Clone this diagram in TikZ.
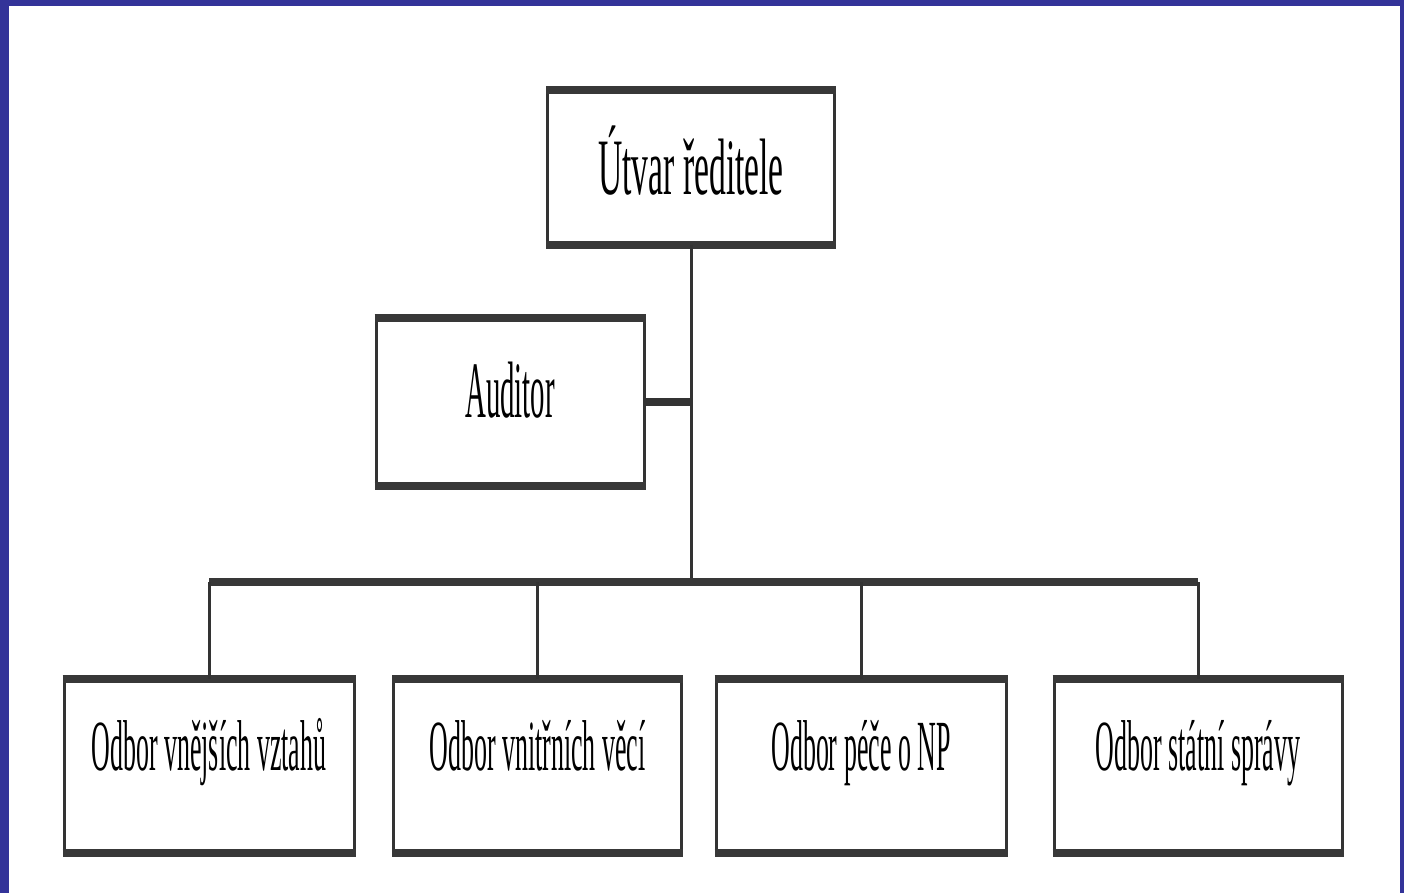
\documentclass[tikz,border=0pt]{standalone}
\usepackage{fontspec}
\newfontfamily\orgfont[FakeStretch=0.36]{Liberation Serif}
\newfontfamily\headfont[FakeStretch=0.42]{Liberation Serif}
\usetikzlibrary{positioning}
\definecolor{frameblue}{RGB}{51,51,153}
\tikzset{
  rule/.style={draw=black!78,line width=4pt,-},
  link/.style={draw=black!80,line width=1.5pt},
  unit/.style={draw=black!80,line width=1.5pt,minimum width=145pt,minimum height=85.5pt,
    inner sep=0pt,font=\orgfont\fontsize{36}{36}\selectfont,text height=25pt,text depth=21pt,
    append after command={(\tikzlastnode.north west) edge[rule] (\tikzlastnode.north east)
      (\tikzlastnode.south west) edge[rule] (\tikzlastnode.south east)}}
}

\begin{document}
\begin{tikzpicture}[x=0.5pt,y=-0.5pt]
  \fill[frameblue] (0,0) rectangle (1404,893);
  \fill[white] (9,6) rectangle (1400,893);
  \useasboundingbox (0,0) rectangle (1404,893);
  % vedeni
  \node[unit,minimum width=143.5pt,minimum height=76pt,font=\headfont\fontsize{40}{40}\selectfont,
    text height=27pt,text depth=0pt] (reditel) at (691,167.5) {Útvar ředitele};
  \node[unit,minimum width=134pt,minimum height=82pt,font=\orgfont\fontsize{40}{40}\selectfont,
    text height=27.5pt,text depth=12pt] (auditor) at (510,402) {Auditor};
  % odbory
  \node[unit] (vnejsi) at (209,766) {Odbor vnějších vztahů};
  \node[unit,minimum width=144pt] (vnitrni) at (537.5,766) {Odbor vnitřních věcí};
  \node[unit] (pece) at (861,766) {Odbor péče o NP};
  \node[unit,minimum width=144pt] (statni) at (1198,766) {Odbor státní správy};
  \coordinate (bus) at (0,582);
  \draw[link] (reditel.south) -- (reditel.south |- bus);
  \draw[link,line width=4pt] (auditor.east) -- (auditor.east -| reditel.south);
  \draw[rule] (vnejsi.north |- bus) -- (statni.north |- bus);
  \foreach \n in {vnejsi,vnitrni,pece,statni}
    \draw[link] (\n.north |- bus) -- (\n.north);
\end{tikzpicture}
\end{document}
